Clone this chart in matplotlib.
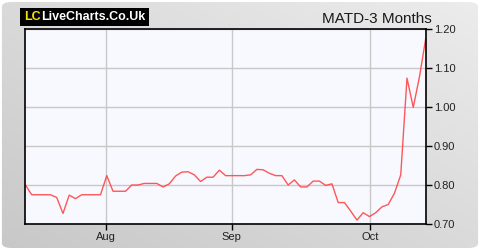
"""MATD 3-month price chart in the LiveCharts style."""

import matplotlib

matplotlib.use("Agg")

import matplotlib.pyplot as plt
import numpy as np
from matplotlib.patches import FancyBboxPatch, Rectangle

plt.rcParams["font.family"] = ["Liberation Sans", "DejaVu Sans"]

# closing prices, one per trading day
prices = [
    0.800, 0.775, 0.775, 0.775, 0.775, 0.768, 0.727, 0.774, 0.765, 0.775,
    0.775, 0.775, 0.775, 0.824, 0.784, 0.784, 0.784, 0.800, 0.800, 0.804,
    0.804, 0.804, 0.795, 0.803, 0.823, 0.833, 0.834, 0.826, 0.809, 0.820,
    0.820, 0.838, 0.824, 0.824, 0.824, 0.824, 0.826, 0.840, 0.839, 0.830,
    0.824, 0.824, 0.800, 0.813, 0.795, 0.795, 0.810, 0.810, 0.799, 0.803,
    0.755, 0.755, 0.733, 0.710, 0.729, 0.719, 0.729, 0.744, 0.750, 0.779,
    0.826, 1.074, 0.999, 1.078, 1.176,
]
month_labels = ["Aug", "Sep", "Oct"]
month_pos = [12.9, 33.0, 55.1]  # trading-day index of each month start
y_ticks = [0.70, 0.80, 0.90, 1.00, 1.10, 1.20]

fig = plt.figure(figsize=(4.8, 2.5), dpi=100)
fig.patch.set_facecolor("white")

# gradient grey panel with rounded corners
bg = fig.add_axes([0, 0, 1, 1])
bg.set_axis_off()
gx, gy = np.meshgrid(np.linspace(0, 1, 200), np.linspace(0, 1, 100))
grad = 0.5 * gx + 0.5 * gy
cmap = matplotlib.colors.LinearSegmentedColormap.from_list("g", ["#c8c8c8", "#ececec"])
im = bg.imshow(grad, extent=[0, 1, 0, 1], origin="lower", aspect="auto", cmap=cmap)
panel = FancyBboxPatch((0.004, 0.008), 0.992, 0.984,
                       boxstyle="round,pad=0,rounding_size=0.02",
                       transform=bg.transAxes, facecolor="none", edgecolor="none")
bg.add_patch(panel)
im.set_clip_path(panel)
bg.set_xlim(0, 1)
bg.set_ylim(0, 1)

# logo box: black strip, yellow "LC", white site name
bg.add_patch(Rectangle((20 / 480, 1 - 26 / 250), 129 / 480, 18 / 250,
                       transform=bg.transAxes, facecolor="black", edgecolor="none"))
fig.text(24 / 480, 1 - 17 / 250, "LC", color="#f5e400", fontsize=9,
         fontweight="bold", va="center", ha="left")
fig.text(41 / 480, 1 - 17 / 250, "LiveCharts.Co.Uk", color="white", fontsize=9,
         fontweight="bold", va="center", ha="left")

ax = fig.add_axes([0.053, 0.104, 0.834, 0.78])
ax.set_facecolor("#f8f8ff")
x = np.arange(len(prices))
ax.plot(x, prices, color="#ff3b3b", lw=1.0, alpha=0.85)

ax.set_xlim(0, len(prices) - 1)
ax.set_ylim(0.70, 1.20)
ax.set_xticks(month_pos)
ax.set_xticklabels(month_labels)
ax.set_yticks(y_ticks)
ax.set_yticklabels([f"{v:.2f}" for v in y_ticks])
ax.yaxis.tick_right()
ax.grid(True, color="#c8c8c8", lw=1.0)
ax.set_axisbelow(True)
for s in ax.spines.values():
    s.set_color("black")
    s.set_linewidth(1.2)
ax.tick_params(axis="both", colors="black", labelcolor="#222222",
               labelsize=8, length=4, width=1, direction="out")
ax.tick_params(axis="y", pad=2)
ax.tick_params(axis="x", pad=1.5)

fig.text(0.9, 0.925, "MATD-3 Months", color="#1a1a1a", fontsize=11,
         va="center", ha="right")

fig.savefig("out.png", dpi=100)
